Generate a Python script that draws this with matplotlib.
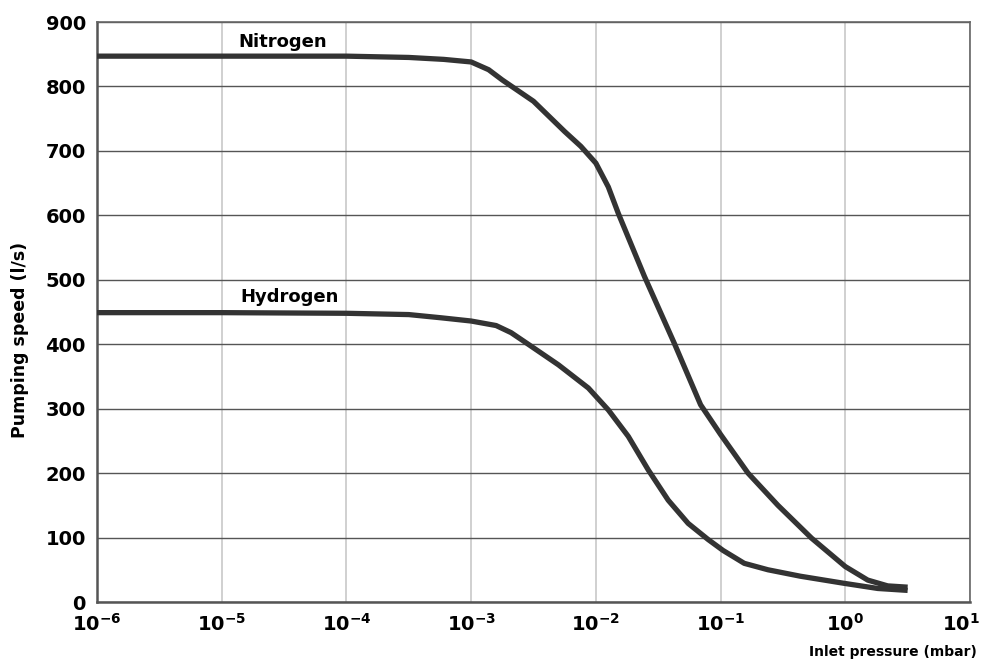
import matplotlib
matplotlib.use('Agg')
import matplotlib.pyplot as plt
import matplotlib.transforms as mtransforms
import numpy as np

# log10 of inlet pressure (mbar) and pumping speed (l/s)
n2_log_p = [-6.0, -5.0, -4.0, -3.5, -3.22, -3.0, -2.86, -2.75, -2.5, -2.25,
            -2.12, -2.0, -1.9, -1.82, -1.61, -1.37, -1.16, -1.0, -0.78, -0.54,
            -0.27, 0.0, 0.18, 0.34, 0.5]
n2_speed = [847, 847, 847, 845, 842, 838, 826, 810, 777, 730,
            707, 681, 644, 603, 505, 401, 306, 260, 200, 150,
            99, 55, 34, 25, 23]

h2_log_p = [-6.0, -5.0, -4.0, -3.5, -3.24, -3.0, -2.8, -2.68, -2.55, -2.3, -2.06,
            -1.9, -1.74, -1.58, -1.42, -1.26, -1.1, -0.98, -0.81, -0.62, -0.36,
            -0.01, 0.26, 0.5]
h2_speed = [449, 449, 448, 446, 441, 436, 429, 418, 401, 368, 332,
            298, 257, 205, 158, 122, 97, 80, 60, 50, 40,
            29, 21, 18]

n2_pressure = np.power(10.0, n2_log_p)
h2_pressure = np.power(10.0, h2_log_p)

xticks = [1e-6, 1e-5, 1e-4, 1e-3, 1e-2, 1e-1, 1e0, 1e1]
xtick_labels = [r'$\mathbf{10^{-6}}$', r'$\mathbf{10^{-5}}$', r'$\mathbf{10^{-4}}$',
                r'$\mathbf{10^{-3}}$', r'$\mathbf{10^{-2}}$', r'$\mathbf{10^{-1}}$',
                r'$\mathbf{10^{0}}$', r'$\mathbf{10^{1}}$']
yticks = [0, 100, 200, 300, 400, 500, 600, 700, 800, 900]

line_color = '#333333'

fig = plt.figure(figsize=(9.81, 6.66), dpi=100)
ax = fig.add_axes([97 / 981, 64 / 666, 873 / 981, 580 / 666])

ax.plot(n2_pressure, n2_speed, color=line_color, lw=3.8, solid_capstyle='butt',
        solid_joinstyle='round', zorder=3)
ax.plot(h2_pressure, h2_speed, color=line_color, lw=3.8, solid_capstyle='butt',
        solid_joinstyle='round', zorder=3)

ax.set_xscale('log')
ax.set_xlim(1e-6, 1e1)
ax.set_ylim(0, 900)
ax.set_xticks(xticks)
ax.set_xticklabels(xtick_labels)
ax.minorticks_off()
ax.set_yticks(yticks)
ax.tick_params(length=0, labelsize=14, pad=8)
for lbl in ax.get_yticklabels():
    lbl.set_fontweight('bold')

# last x label sits at the right edge, keep it inside the picture
last = ax.get_xticklabels()[-1]
last.set_horizontalalignment('right')
last.set_transform(last.get_transform() +
                   mtransforms.ScaledTranslation(0.1, 0, fig.dpi_scale_trans))

ax.grid(axis='x', color='#c8c8c8', lw=1.2)
ax.grid(axis='y', color='#555555', lw=1.0)
ax.set_axisbelow(True)
for side in ['left', 'bottom']:
    ax.spines[side].set_color('#555555')
    ax.spines[side].set_linewidth(1.8)
for side in ['top', 'right']:
    ax.spines[side].set_color('#666666')
    ax.spines[side].set_linewidth(1.2)

ax.text(3.1e-5, 869, 'Nitrogen', ha='center', va='center', fontsize=13, fontweight='bold')
ax.text(3.5e-5, 473, 'Hydrogen', ha='center', va='center', fontsize=13, fontweight='bold')

fig.text(20 / 981, 1 - 340 / 666, 'Pumping speed (l/s)', rotation=90, ha='center',
         va='center', fontsize=12.5, fontweight='bold')
fig.text(977 / 981, 1 - 652 / 666, 'Inlet pressure (mbar)', ha='right', va='center',
         fontsize=10, fontweight='bold')

fig.savefig('out.png', dpi=100)
